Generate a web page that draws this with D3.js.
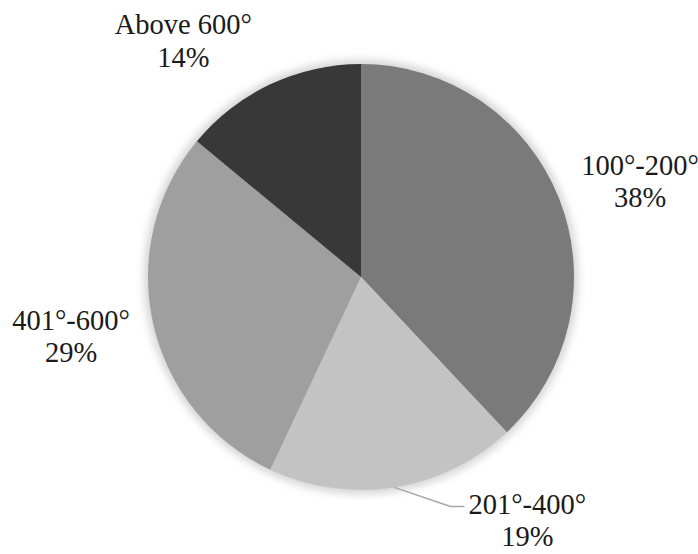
<!DOCTYPE html>
<html>
<head>
<meta charset="utf-8">
<script src="https://cdn.jsdelivr.net/npm/d3@7"></script>
<style>
  body { margin: 0; background: #fff; }
  svg text { font-family: "Liberation Serif", "Times New Roman", serif; fill: #1a1a1a; }
</style>
</head>
<body>
<div id="chart"></div>
<script>
// data
const categories = ["100°-200°", "201°-400°", "401°-600°", "Above 600°"];
const shares = [38, 19, 29, 14];
const colors = ["#7a7a7a", "#c3c3c3", "#9f9f9f", "#383838"];

const width = 698, height = 554;
const cx = 361, cy = 277, radius = 213;
const fontSize = 28.5, lineGap = 32.5;

// label placement: mid angle shift (deg) and distance from centre
const labelLayout = [
  { shift: 4.5, dist: 292 },
  { shift: -24.3, dist: 303, leader: true },
  { shift: -0.8, dist: 298 },
  { shift: -12.9, dist: 288 }
];

const svg = d3.select("#chart").append("svg")
  .attr("width", width)
  .attr("height", height);

const defs = svg.append("defs");
const glow = defs.append("filter")
  .attr("id", "glow")
  .attr("x", "-20%").attr("y", "-20%")
  .attr("width", "140%").attr("height", "140%");
glow.append("feGaussianBlur").attr("stdDeviation", 4);

const g = svg.append("g")
  .attr("transform", `translate(${cx},${cy})`);

// soft halo behind the pie
g.append("circle")
  .attr("r", radius + 4)
  .attr("fill", "#d4d4d4")
  .attr("filter", "url(#glow)");

const pie = d3.pie().sort(null).value(d => d);
const arcs = pie(shares);

const arc = d3.arc().innerRadius(0).outerRadius(radius);

g.selectAll("path.slice")
  .data(arcs).enter()
  .append("path")
  .attr("class", "slice")
  .attr("d", arc)
  .attr("fill", (d, i) => colors[i]);

const toRad = Math.PI / 180;

arcs.forEach((d, i) => {
  const lay = labelLayout[i];
  const midAngle = (d.startAngle + d.endAngle) / 2;
  const a = midAngle + lay.shift * toRad;
  const lx = Math.sin(a) * lay.dist;
  const ly = -Math.cos(a) * lay.dist;

  const t = g.append("text")
    .attr("text-anchor", "middle")
    .style("font-size", fontSize + "px");
  t.append("tspan")
    .attr("x", lx).attr("y", ly - lineGap / 2)
    .text(categories[i]);
  t.append("tspan")
    .attr("x", lx).attr("y", ly + lineGap / 2)
    .text(shares[i] + "%");

  if (lay.leader) {
    // leader from the slice edge to the first label line
    const p0 = [Math.sin(midAngle) * radius, -Math.cos(midAngle) * radius];
    const bbox = t.node().getBBox();
    const yMid = ly - lineGap / 2 - 7.5;
    const x2 = bbox.x - 4;
    const x1 = x2 - 14;
    g.append("polyline")
      .attr("points", [p0, [x1, yMid], [x2, yMid]].map(p => p.join(",")).join(" "))
      .attr("fill", "none")
      .attr("stroke", "#a6a6a6")
      .attr("stroke-width", 1.5);
  }
});
</script>
</body>
</html>
